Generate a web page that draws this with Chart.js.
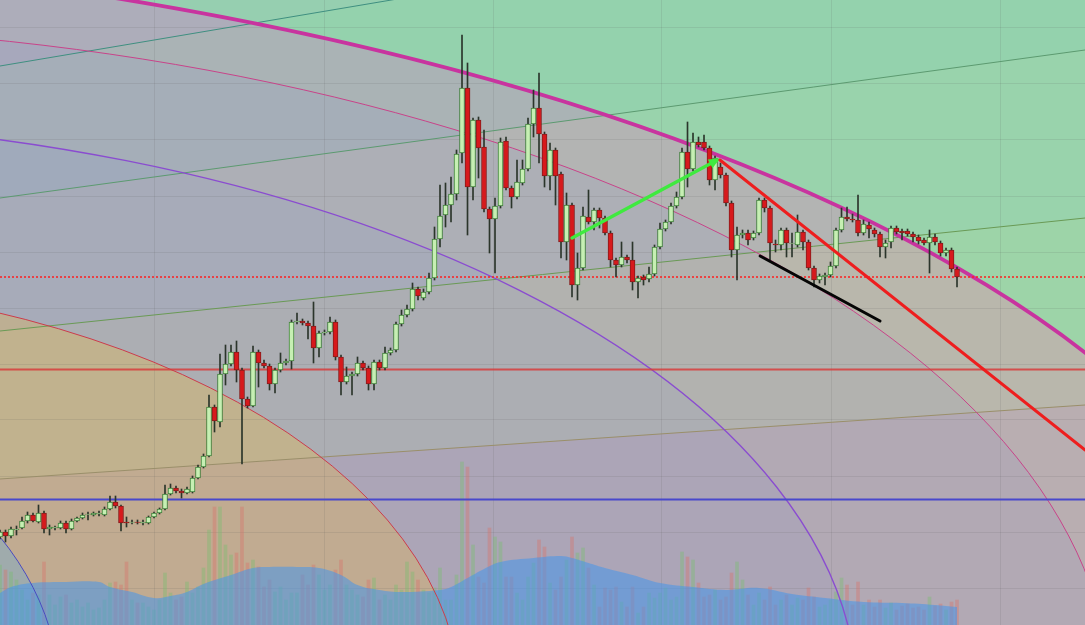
<!DOCTYPE html>
<html><head><meta charset="utf-8">
<script src="https://cdn.jsdelivr.net/npm/chart.js@4.4.1/dist/chart.umd.min.js"></script>
<style>html,body{margin:0;padding:0;background:#b6b6b6;overflow:hidden}#wrap{width:1085px;height:625px}</style>
</head><body><div id="wrap"><canvas id="c" width="1085" height="625"></canvas></div>
<script>
// ---- candle data (index 0..174) ----
const opens=[8.8,9.3,8.9,9.5,9.7,10.4,11.0,10.3,11.2,9.6,9.7,9.7,10.2,9.6,10.4,10.7,11.05,11.0,11.1,11.0,11.6,12.3,11.9,10.3,10.25,10.3,10.2,10.2,10.8,11.2,11.6,13.1,13.7,13.4,13.2,13.3,14.7,15.8,16.9,21.8,20.3,25.1,26.1,27.3,25.5,22.6,21.9,27.3,26.2,25.9,24.1,25.5,26.2,26.4,30.3,30.4,30.2,29.9,27.7,29.2,29.3,30.3,26.8,24.3,24.9,25.1,26.2,25.7,24.1,26.3,25.7,27.2,27.5,30.1,31.0,31.6,33.6,32.7,33.3,34.7,38.6,41.0,42.0,43.1,47.2,53.7,43.8,50.5,47.8,41.6,40.6,41.9,48.4,43.7,42.8,44.2,45.6,50.1,51.7,49.1,44.9,47.5,45.1,38.3,42.0,34.0,35.7,40.8,40.3,41.5,40.7,39.2,36.5,36.0,36.8,36.5,34.3,34.8,34.6,35.1,37.8,39.6,40.3,41.9,42.8,47.3,45.6,48.3,48.3,47.7,44.5,45.8,45.0,42.2,37.5,39.0,39.2,38.7,39.2,42.5,41.7,38.1,38.0,39.5,38.15,38.0,39.3,38.3,35.7,34.5,34.8,35.0,35.9,39.5,40.8,40.6,40.5,39.2,40.0,39.5,39.1,37.8,38.3,39.7,39.4,39.4,39.1,38.8,38.5,38.2,38.8,38.2,37.2,37.5,35.6];
const highs=[9.5,9.5,9.8,9.9,10.8,11.3,11.2,12.0,11.4,10.0,9.9,10.4,10.4,10.6,10.8,11.2,11.3,11.3,11.4,11.8,12.9,12.9,12.0,10.8,10.5,10.5,10.5,10.9,11.3,11.7,14.0,14.1,13.9,13.6,13.8,14.9,16.0,17.1,23.0,22.0,27.1,28.0,28.0,28.4,25.7,22.8,27.9,27.5,26.5,26.1,25.7,27.2,26.6,30.5,31.2,30.6,30.4,32.3,29.4,29.5,30.8,30.5,27.0,25.8,25.3,26.8,26.4,25.9,26.5,26.5,27.8,27.7,30.3,31.5,32.0,34.2,33.8,33.6,35.2,39.8,44.0,44.2,44.8,47.5,59.0,56.2,50.7,50.8,49.5,41.8,42.7,48.7,48.8,43.9,46.5,46.5,50.7,53.5,55.2,49.3,48.2,47.7,45.3,43.2,42.2,37.2,41.8,43.5,41.7,41.7,40.9,39.4,36.7,38.3,37.0,38.3,34.9,35.0,35.8,38.0,40.2,40.5,42.2,43.3,47.7,50.3,49.2,48.8,49.0,47.9,46.9,46.2,45.2,42.4,39.8,39.5,39.5,39.4,42.7,42.7,41.9,38.5,39.7,39.7,39.2,41.0,39.5,38.5,35.9,35.1,35.2,36.3,39.7,41.7,41.8,41.1,43.0,40.5,40.3,39.7,39.3,38.5,39.9,39.9,39.6,39.6,39.3,39.0,38.7,39.5,39.1,38.4,37.7,37.7,35.8];
const lows=[8.6,8.3,8.7,9.0,9.6,10.2,10.3,10.2,9.2,9.0,9.5,9.6,9.2,9.5,10.3,10.6,10.5,10.9,10.9,10.9,11.5,11.7,9.4,9.8,10.1,10.1,10.0,10.1,10.7,11.1,11.5,13.0,13.2,12.7,13.1,13.2,14.6,15.7,16.8,19.3,19.8,24.0,25.9,24.3,16.1,21.7,21.8,23.8,25.7,23.5,23.2,25.3,26.0,25.6,30.1,30.0,28.6,26.2,26.8,29.0,29.1,26.5,23.0,24.1,23.0,24.9,25.5,23.5,23.5,25.5,25.5,27.0,27.3,29.9,30.8,31.4,32.5,32.5,33.1,34.5,37.8,39.8,40.3,42.5,46.2,39.0,42.5,44.7,41.3,37.2,35.2,41.7,43.5,41.7,42.6,44.0,45.4,48.8,46.2,43.8,43.5,42.0,36.7,36.5,32.8,32.5,35.5,40.1,39.5,39.7,39.0,35.8,34.8,35.8,36.2,33.5,32.7,34.0,34.3,34.9,37.6,39.4,40.1,41.7,42.6,43.8,45.4,47.8,47.5,44.0,43.5,44.7,41.9,36.8,34.5,38.7,38.0,38.5,39.0,41.3,36.5,37.3,37.5,36.8,36.8,37.8,37.5,35.5,33.8,34.2,34.0,34.8,35.7,39.3,40.4,40.3,38.9,39.0,38.7,38.8,36.8,36.7,37.7,39.1,38.5,38.9,38.3,38.1,38.0,35.2,38.0,36.9,36.9,35.3,33.8];
const closes=[9.3,8.9,9.6,9.6,10.4,11.0,10.4,11.2,9.6,9.8,9.8,10.2,9.6,10.4,10.7,11.0,11.1,11.2,11.2,11.6,12.3,11.9,10.2,10.2,10.3,10.25,10.3,10.8,11.2,11.6,13.1,13.7,13.4,13.2,13.6,14.7,15.8,16.9,21.8,20.4,25.1,26.1,27.3,25.5,22.6,21.9,27.3,26.2,25.9,24.1,25.5,26.2,26.4,30.3,30.4,30.2,29.9,27.7,29.2,29.3,30.3,26.8,24.3,24.9,25.1,26.2,25.7,24.1,26.3,25.7,27.2,27.5,30.1,31.0,31.6,33.6,32.9,33.3,34.7,38.6,40.9,42.0,43.1,47.1,53.7,43.8,50.5,47.7,41.6,40.6,41.9,48.3,43.7,42.8,44.3,45.6,50.1,51.7,49.1,44.9,47.5,44.9,38.3,42.0,34.0,35.7,40.9,40.3,41.5,40.7,39.2,36.5,36.0,36.8,36.5,34.3,34.7,34.5,35.1,37.8,39.6,40.3,41.9,42.8,47.3,45.6,48.3,48.0,47.7,44.5,46.7,45.0,42.2,37.5,39.0,39.2,38.5,39.2,42.5,41.7,38.2,38.0,39.5,38.2,38.2,39.3,38.3,35.7,34.5,34.9,35.0,35.9,39.5,40.8,40.6,40.5,39.2,40.1,39.6,39.1,37.8,38.2,39.7,39.3,39.2,39.1,38.8,38.4,38.2,38.8,38.3,37.2,37.5,35.6,34.8];
const volumes=[60,55,53,45,35,25,32,30,63,30,20,28,30,22,25,18,22,15,17,25,42,43,40,63,25,22,22,18,15,25,52,32,25,28,43,32,38,57,95,118,118,80,70,72,118,62,65,58,38,45,33,38,25,32,32,50,40,60,50,35,40,55,65,40,35,30,28,45,47,25,30,25,40,35,63,53,45,35,32,37,57,25,25,50,163,158,80,48,42,97,88,83,48,48,32,25,48,62,85,78,42,35,48,65,88,72,77,57,40,18,37,35,38,23,18,38,12,18,32,27,32,37,25,28,73,68,65,42,28,30,35,25,28,52,63,45,30,20,32,25,38,20,25,30,20,27,25,37,28,18,20,25,33,47,40,20,43,20,25,18,25,17,22,15,19,21,17,18,15,28,19,21,15,23,25];
// volume moving average (sampled at candle indexes)
const maIndex=[0,2,6,12,18,20,24,28,31,34,37,42,46,49,54,58,62,65,69,73,80,82,85,88,91,97,102,104,107,110,115,120,126,132,138,144,150,157,164,170,174];
const maValues=[32,38,42,43,43,38,33,27,29,33,41,50,57,58,58,57,50,40,35,33,35,38,47,56,63,67,69,67,62,57,50,42,38,35,37,31,27,23,22,20,18];
// grid tick values
const xGridTicks=[28.18,58.91,89.64,120.36,151.09,181.82];
const yGridTicks=[3.7,9.3,14.9,20.5,26.1,31.7,37.3,42.9,48.5,54.1,59.7];
// horizontal price levels: dotted red, solid red, solid blue
const levelPrices=[34.8,25.6,12.6];
// fib fan lines (price at x=0 and x=197.27)
const fanX=[0,197.27];
const fanStart=[55.9,42.7,29.4,14.6];
const fanEnd=[74.2,57.5,40.7,22.0];
// fib arcs (ellipses, data units): magenta, pink, purple, red, blue
const arcCenterX=[-109.1,-54.5,-54.5,-54.5,-54.5];
const arcCenterY=-7.5;
const arcRadiusX=[344.7,256.5,210.4,138.2,65.5];
const arcRadiusY=[75.8,67.5,58.0,42.1,29.4];
// trend lines [x1,p1,x2,p2]
const greenArrow=[104.0,38.7,130.4,46.5];
const redTrend=[130.9,46.5,197.3,17.5];
const blackTrend=[138.2,36.9,160.0,30.4];

const idx=opens.map((_,i)=>i);
const up=i=>closes[i]>=opens[i];

function arcGeom(chart,k){
  const xs=chart.scales.x, ys=chart.scales.y;
  const cx=xs.getPixelForValue(arcCenterX[k]), cy=ys.getPixelForValue(arcCenterY);
  return {cx,cy,rx:xs.getPixelForValue(arcCenterX[k]+arcRadiusX[k])-cx, ry:cy-ys.getPixelForValue(arcCenterY+arcRadiusY[k])};
}

const drawings={
  id:'drawings',
  beforeDraw(chart){
    const {ctx}=chart, xs=chart.scales.x, ys=chart.scales.y;
    const W=chart.width,H=chart.height;
    const px=v=>xs.getPixelForValue(v), py=v=>ys.getPixelForValue(v);
    ctx.save();
    ctx.fillStyle='#b6b5b5';ctx.fillRect(0,0,W,H);
    // fan bands
    const x0=px(fanX[0]),x1=px(fanX[1]);
    const lines=fanStart.map((s,k)=>[py(s),py(fanEnd[k])]);
    const bands=[[[-2000,-2000],lines[0]],[lines[0],lines[1]],[lines[1],lines[2]],[lines[2],lines[3]],[lines[3],[3000,3000]]];
    const bandColors=['rgba(90,100,240,0.09)','rgba(40,170,190,0.08)','rgba(80,170,120,0.03)','rgba(225,215,80,0.08)','rgba(230,100,140,0.08)'];
    bands.forEach((b,k)=>{
      ctx.beginPath();ctx.moveTo(x0,b[0][0]);ctx.lineTo(x1,b[0][1]);ctx.lineTo(x1,b[1][1]);ctx.lineTo(x0,b[1][0]);ctx.closePath();
      ctx.fillStyle=bandColors[k];ctx.fill();
    });
    // arcs fills
    let g=arcGeom(chart,0);
    ctx.beginPath();ctx.rect(-10,-10,W+20,H+20);ctx.ellipse(g.cx,g.cy,g.rx,g.ry,0,0,Math.PI*2);
    ctx.fillStyle='rgba(120,250,165,0.44)';ctx.fill('evenodd');
    const inner=['rgba(0,0,0,0)','rgba(100,120,230,0.07)','rgba(100,130,230,0.08)','rgba(255,190,40,0.26)','rgba(60,170,255,0.25)'];
    for(let k=1;k<5;k++){g=arcGeom(chart,k);ctx.beginPath();ctx.ellipse(g.cx,g.cy,g.rx,g.ry,0,0,Math.PI*2);ctx.fillStyle=inner[k];ctx.fill();}
    ctx.restore();
  },
  afterDatasetDraw(chart,args){
    if(args.index!==1) return; // after the volume average area
    const {ctx}=chart, xs=chart.scales.x, ys=chart.scales.y;
    const px=v=>xs.getPixelForValue(v), py=v=>ys.getPixelForValue(v);
    const W=chart.width;
    ctx.save();
    // fan lines
    const fanColors=['#3f8f80','#5c9a70','#6a9a55','#9a8f6a'];
    fanStart.forEach((s,k)=>{ctx.beginPath();ctx.moveTo(px(fanX[0]),py(s));ctx.lineTo(px(fanX[1]),py(fanEnd[k]));ctx.strokeStyle=fanColors[k];ctx.lineWidth=1;ctx.stroke();});
    // arcs
    const arcColors=['#c8349f','#c8448a','#8a4cd0','#cc3c4c','#4a4ac0'];
    const arcWidths=[3.8,1,1.3,1,1];
    arcRadiusX.forEach((r,k)=>{
      const g=arcGeom(chart,k);
      ctx.beginPath();ctx.ellipse(g.cx,g.cy,g.rx,g.ry,0,0,Math.PI*2);ctx.strokeStyle=arcColors[k];ctx.lineWidth=arcWidths[k];ctx.stroke();
    });
    // horizontal levels
    const lvlColors=['#ff1e1e','rgba(215,60,60,0.85)','#4848cc'];
    levelPrices.forEach((p,k)=>{
      const y=Math.round(py(p))+(k===0?0:0.5);
      ctx.beginPath();ctx.moveTo(0,y);ctx.lineTo(W,y);
      ctx.setLineDash(k===0?[2,2]:[]);ctx.lineWidth=k===0?1.5:2;ctx.strokeStyle=lvlColors[k];ctx.stroke();
    });
    ctx.restore();
  },
  afterDatasetsDraw(chart){
    const {ctx}=chart, xs=chart.scales.x, ys=chart.scales.y;
    const px=v=>xs.getPixelForValue(v), py=v=>ys.getPixelForValue(v);
    ctx.save();ctx.lineCap='round';
    const seg=(t,c,w)=>{ctx.beginPath();ctx.moveTo(px(t[0]),py(t[1]));ctx.lineTo(px(t[2]),py(t[3]));ctx.strokeStyle=c;ctx.lineWidth=w;ctx.stroke();};
    seg(greenArrow,'#3fea3f',3.3);
    const ax=px(greenArrow[2]),ay=py(greenArrow[3]);
    const ang=Math.atan2(ay-py(greenArrow[1]),ax-px(greenArrow[0]));
    ctx.beginPath();ctx.moveTo(ax+3*Math.cos(ang),ay+3*Math.sin(ang));
    ctx.lineTo(ax-8*Math.cos(ang)+5*Math.sin(ang),ay-8*Math.sin(ang)-5*Math.cos(ang));
    ctx.lineTo(ax-8*Math.cos(ang)-5*Math.sin(ang),ay-8*Math.sin(ang)+5*Math.cos(ang));
    ctx.closePath();ctx.fillStyle='#3fea3f';ctx.fill();
    seg(redTrend,'#ee1e1e',3);
    seg(blackTrend,'#050505',3);
    ctx.restore();
  }
};

new Chart(document.getElementById('c'),{
  type:'bar',
  data:{datasets:[
    {label:'Volume',yAxisID:'yVol',order:4,grouped:false,barThickness:3,
     data:idx.map(i=>({x:i,y:volumes[i]})),
     backgroundColor:ctx=>up(ctx.dataIndex)?'rgba(120,190,110,0.4)':'rgba(215,115,105,0.4)',borderWidth:0},
    {type:'line',label:'Volume MA',yAxisID:'yVol',order:3,
     data:maIndex.map((x,k)=>({x,y:maValues[k]})),
     fill:'origin',backgroundColor:'rgba(70,150,235,0.55)',borderWidth:0,pointRadius:0,tension:0.4},
    {label:'Wick',yAxisID:'y',order:2,grouped:false,barThickness:1,
     data:idx.map(i=>({x:i,y:[lows[i],highs[i]]})),
     backgroundColor:'#2b352b',borderWidth:0},
    {label:'Body',yAxisID:'y',order:1,grouped:false,barThickness:5,borderSkipped:false,
     data:idx.map(i=>({x:i,y:[opens[i],closes[i]]})),
     backgroundColor:ctx=>up(ctx.dataIndex)?'#c6efb3':'#d7191c',
     borderColor:ctx=>up(ctx.dataIndex)?'#3f7f3a':'#861c1c',borderWidth:1}
  ]},
  options:{
    responsive:false,animation:false,devicePixelRatio:1,
    layout:{padding:0},
    plugins:{legend:{display:false},tooltip:{enabled:false}},
    scales:{
      x:{type:'linear',offset:false,min:0,max:197.27,ticks:{display:false},grid:{color:'rgba(80,80,80,0.12)',drawTicks:false,offset:false},border:{display:false},
         afterBuildTicks:s=>{s.ticks=xGridTicks.map(v=>({value:v}));}},
      y:{type:'linear',min:0,max:62.5,position:'left',ticks:{display:false},grid:{color:'rgba(80,80,80,0.12)',drawTicks:false},border:{display:false},
         afterBuildTicks:s=>{s.ticks=yGridTicks.map(v=>({value:v}));}},
      yVol:{type:'linear',min:0,max:625,display:false}
    }
  },
  plugins:[drawings]
});
</script></body></html>
